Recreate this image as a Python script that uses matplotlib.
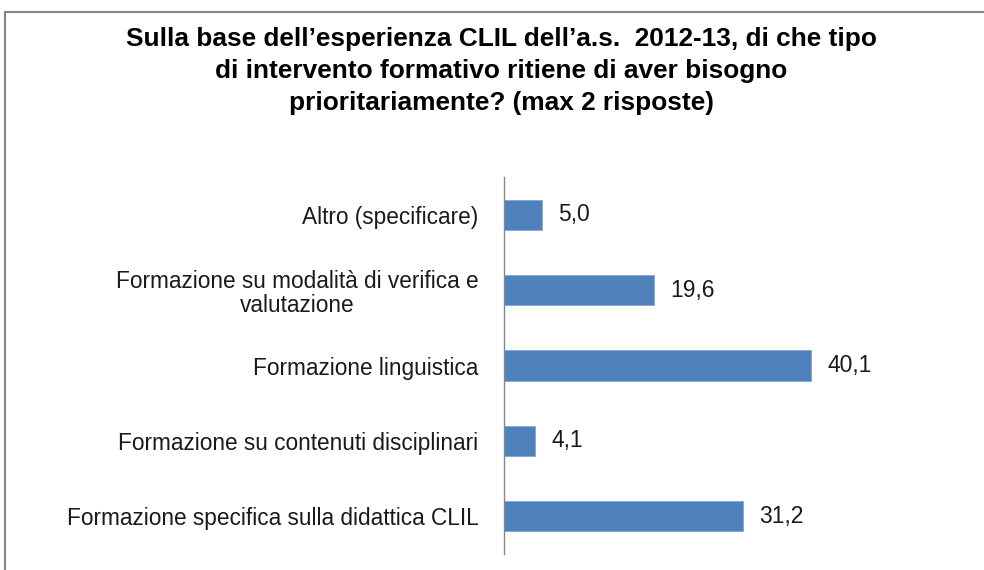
import matplotlib.pyplot as plt
from matplotlib.patches import Rectangle

categories = ["Formazione specifica sulla didattica CLIL",
              "Formazione su contenuti disciplinari",
              "Formazione linguistica",
              "Formazione su modalità di verifica e\nvalutazione",
              "Altro (specificare)"]
values = [31.2, 4.1, 40.1, 19.6, 5.0]
title = ("Sulla base dell\u2019esperienza CLIL dell\u2019a.s.  2012-13, di che tipo\n"
         "di intervento formativo ritiene di aver bisogno\n"
         "prioritariamente? (max 2 risposte)")

plt.rcParams["font.family"] = ["Liberation Sans", "DejaVu Sans"]

W, H = 984, 570
fig = plt.figure(figsize=(W / 100, H / 100), dpi=100)

# chart border (only left and top edges visible in frame)
fig.patches.append(Rectangle((5 / W, -0.1), 1.2, (H - 12) / H + 0.1, transform=fig.transFigure,
                             fill=False, edgecolor="#868686", linewidth=1.5))

ax = fig.add_axes([504 / W, 1 - 554 / H, 400 / W, 377 / H])
y = range(len(categories))
ax.barh(y, values, height=0.4, color="#4F81BD", edgecolor="#7FA7D8", linewidth=0.6)
ax.set_ylim(-0.5, len(categories) - 0.5)
ax.set_xlim(0, 400 / 7.66)

for yi, v in zip(y, values):
    ax.text(v + 2.1, yi, f"{v:.1f}".replace(".", ","), va="center", ha="left",
            fontsize=16.5, color="#1a1a1a")

ax.set_yticks(list(y))
ax.set_yticklabels(categories, fontsize=16.3, color="#1a1a1a", multialignment="center",
                   linespacing=1.1)
ax.tick_params(axis="y", length=0, pad=18.5)
ax.set_xticks([])
for s in ["top", "right", "bottom"]:
    ax.spines[s].set_visible(False)
ax.spines["left"].set_color("#868686")
ax.spines["left"].set_linewidth(1.0)

fig.text(501 / W, 1 - 71 / H, title, ha="center", va="center", fontsize=18.9,
         fontweight="bold", linespacing=1.4, color="#000000")

fig.savefig("out.png", dpi=100)
